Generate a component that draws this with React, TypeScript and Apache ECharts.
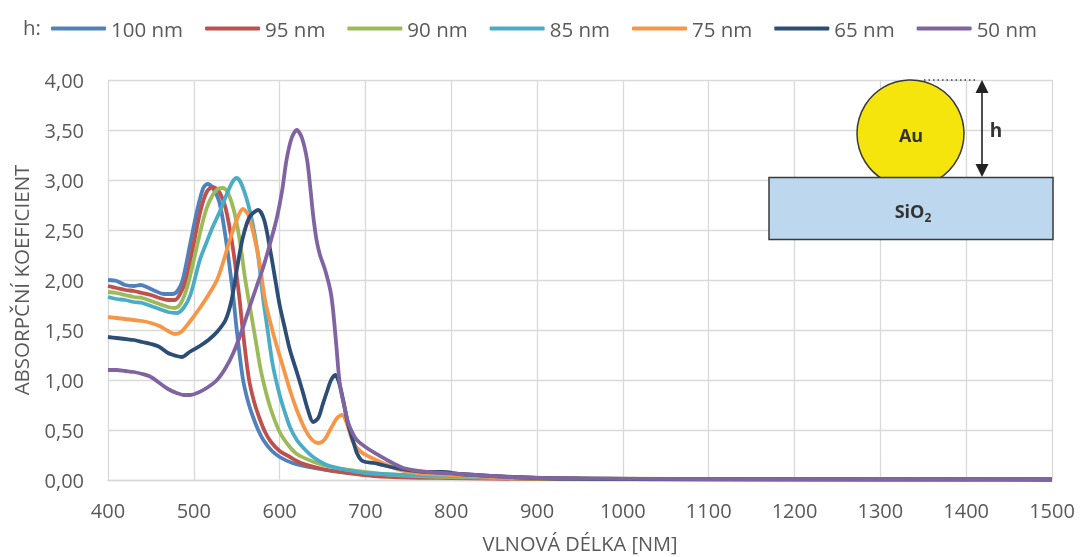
import React, { useEffect, useRef } from "react";
import * as echarts from "echarts";

const FONT = "'Open Sans', sans-serif";
const TEXT = "#595959";

const seriesNames = ["100 nm", "95 nm", "90 nm", "85 nm", "75 nm", "65 nm", "50 nm"];
const seriesColors = ["#4F81BD", "#C0504D", "#9BBB59", "#4BACC6", "#F79646", "#2C4D75", "#8064A2"];

// wavelength [nm], absorption coefficient
const h100: [number, number][] = [
  [400, 2.0], [410, 1.99], [420, 1.95], [430, 1.94], [438, 1.95], [445, 1.93], [455, 1.89], [465, 1.86],
  [475, 1.86], [481, 1.89], [487, 2.0], [496, 2.37], [504, 2.7], [511, 2.92], [516, 2.96], [522, 2.92],
  [530, 2.77], [538, 2.37], [546, 1.83], [550, 1.5], [557, 1.02], [563, 0.79], [569, 0.63], [575, 0.5],
  [581, 0.4], [590, 0.3], [600, 0.23], [615, 0.17], [640, 0.12], [670, 0.08], [700, 0.06], [750, 0.04],
  [800, 0.03], [900, 0.02], [1000, 0.012], [1200, 0.008], [1500, 0.005],
];
const h95: [number, number][] = [
  [400, 1.94], [410, 1.92], [420, 1.9], [430, 1.89], [440, 1.87], [450, 1.85], [460, 1.82], [470, 1.8],
  [478, 1.8], [484, 1.86], [491, 2.0], [500, 2.37], [508, 2.7], [515, 2.88], [522, 2.93], [529, 2.89],
  [537, 2.72], [545, 2.35], [553, 1.83], [557, 1.5], [564, 1.02], [570, 0.79], [576, 0.63], [583, 0.48],
  [590, 0.38], [600, 0.29], [610, 0.24], [625, 0.17], [650, 0.11], [680, 0.07], [710, 0.04], [750, 0.025],
  [800, 0.02], [900, 0.01], [1500, 0.003],
];
const h90: [number, number][] = [
  [400, 1.88], [410, 1.87], [420, 1.85], [430, 1.83], [440, 1.82], [450, 1.79], [460, 1.76], [470, 1.73],
  [478, 1.72], [485, 1.77], [492, 1.92], [500, 2.2], [508, 2.5], [515, 2.72], [522, 2.85], [528, 2.91],
  [534, 2.92], [540, 2.87], [548, 2.65], [554, 2.37], [560, 2.0], [566, 1.7], [572, 1.4], [578, 1.1],
  [584, 0.88], [590, 0.7], [600, 0.48], [610, 0.35], [620, 0.26], [640, 0.18], [660, 0.13], [690, 0.09],
  [720, 0.06], [760, 0.04], [800, 0.03], [900, 0.015], [1500, 0.003],
];
const h85: [number, number][] = [
  [400, 1.83], [410, 1.81], [420, 1.8], [430, 1.78], [440, 1.77], [450, 1.74], [460, 1.71], [470, 1.68],
  [480, 1.67], [488, 1.72], [496, 1.85], [507, 2.2], [515, 2.38], [522, 2.53], [530, 2.68], [538, 2.85],
  [545, 2.98], [550, 3.02], [556, 2.95], [565, 2.7], [574, 2.3], [581, 1.8], [586, 1.5], [592, 1.15],
  [600, 0.85], [606, 0.68], [612, 0.53], [620, 0.4], [630, 0.3], [639, 0.23], [655, 0.15], [678, 0.1],
  [700, 0.07], [750, 0.05], [800, 0.04], [900, 0.02], [1000, 0.01], [1500, 0.005],
];
const h75: [number, number][] = [
  [400, 1.63], [410, 1.62], [420, 1.61], [430, 1.6], [440, 1.59], [450, 1.57], [460, 1.54], [470, 1.49],
  [478, 1.46], [485, 1.48], [495, 1.58], [507, 1.72], [517, 1.85], [527, 2.0], [535, 2.2], [542, 2.4],
  [550, 2.6], [557, 2.71], [563, 2.66], [570, 2.45], [577, 2.15], [583, 1.8], [593, 1.45], [604, 1.13],
  [612, 0.9], [620, 0.7], [630, 0.5], [638, 0.4], [645, 0.37], [652, 0.4], [660, 0.52], [667, 0.62],
  [673, 0.65], [679, 0.55], [686, 0.37], [695, 0.28], [705, 0.23], [720, 0.17], [740, 0.1], [760, 0.07],
  [800, 0.05], [850, 0.03], [900, 0.02], [1000, 0.01], [1500, 0.005],
];
const h65: [number, number][] = [
  [400, 1.43], [410, 1.42], [420, 1.41], [430, 1.4], [440, 1.38], [450, 1.36], [460, 1.33], [470, 1.27],
  [480, 1.24], [486, 1.23], [495, 1.28], [507, 1.34], [517, 1.4], [527, 1.48], [537, 1.6], [544, 1.8],
  [550, 2.1], [557, 2.42], [565, 2.63], [575, 2.7], [582, 2.6], [589, 2.3], [595, 2.0], [600, 1.75],
  [606, 1.52], [612, 1.3], [620, 1.08], [627, 0.88], [633, 0.7], [639, 0.58], [645, 0.62], [650, 0.75],
  [655, 0.88], [660, 1.0], [665, 1.05], [669, 0.98], [674, 0.8], [680, 0.55], [686, 0.38], [690, 0.27],
  [695, 0.2], [700, 0.18], [710, 0.17], [720, 0.15], [735, 0.12], [750, 0.1], [770, 0.08], [790, 0.08],
  [810, 0.06], [850, 0.04], [900, 0.02], [1000, 0.01], [1500, 0.005],
];
const h50: [number, number][] = [
  [400, 1.1], [410, 1.1], [420, 1.09], [430, 1.08], [440, 1.06], [450, 1.03], [460, 0.97], [470, 0.91],
  [480, 0.87], [488, 0.85], [496, 0.85], [504, 0.87], [515, 0.92], [527, 1.0], [537, 1.12], [546, 1.27],
  [555, 1.47], [565, 1.73], [573, 1.93], [581, 2.13], [590, 2.4], [597, 2.63], [603, 2.9], [608, 3.2],
  [614, 3.42], [620, 3.5], [626, 3.42], [632, 3.2], [636, 2.9], [639, 2.65], [643, 2.4], [647, 2.25],
  [653, 2.1], [659, 1.9], [662, 1.72], [666, 1.35], [670, 0.97], [675, 0.75], [680, 0.57], [685, 0.47],
  [690, 0.4], [700, 0.33], [713, 0.26], [725, 0.2], [744, 0.12], [772, 0.08], [810, 0.06], [868, 0.03],
  [950, 0.015], [1100, 0.01], [1500, 0.005],
];
const seriesData = [h100, h95, h90, h85, h75, h65, h50];

export default function App() {
  const ref = useRef<HTMLDivElement>(null);
  useEffect(() => {
    if (!ref.current) return;
    const chart = echarts.init(ref.current, undefined, { renderer: "svg" });
    const dark = "#3a3a3a";
    chart.setOption({
      animation: false,
      textStyle: { fontFamily: FONT },
      grid: { left: 108, right: 31, top: 80, bottom: 77, outerBoundsMode: "none", containLabel: false },
      legend: {
        data: seriesNames,
        left: 46,
        top: 13,
        icon: "roundRect",
        itemWidth: 55,
        itemHeight: 4,
        itemGap: 22,
        textStyle: { fontSize: 20.5, color: TEXT, fontFamily: FONT },
      },
      xAxis: {
        type: "value",
        min: 400,
        max: 1500,
        interval: 100,
        name: "VLNOVÁ DÉLKA [NM]",
        nameLocation: "middle",
        nameGap: 53,
        nameTextStyle: { fontSize: 20, color: TEXT, fontFamily: FONT },
        axisLine: { show: true, lineStyle: { color: "#d9d9d9", width: 1.3 } },
        axisTick: { show: false },
        axisLabel: { fontSize: 20, color: TEXT, margin: 20, fontFamily: FONT, formatter: (v: number) => String(v) },
        splitLine: { show: true, lineStyle: { color: "#d9d9d9", width: 1.3 } },
      },
      yAxis: {
        type: "value",
        min: 0,
        max: 4,
        interval: 0.5,
        name: "ABSORPČNÍ KOEFICIENT",
        nameLocation: "middle",
        nameGap: 77,
        nameTextStyle: { fontSize: 20.5, color: TEXT, fontFamily: FONT },
        axisLine: { show: false },
        axisTick: { show: false },
        axisLabel: {
          fontSize: 20,
          color: TEXT,
          margin: 24,
          fontFamily: FONT,
          formatter: (v: number) => v.toFixed(2).replace(".", ","),
        },
        splitLine: { show: true, lineStyle: { color: "#d9d9d9", width: 1.3 } },
      },
      series: seriesNames.map((name, i) => ({
        name,
        type: "line",
        data: seriesData[i],
        smooth: 0.3,
        symbol: "none",
        lineStyle: { color: seriesColors[i], width: 3.8 },
        itemStyle: { color: seriesColors[i] },
      })),
      graphic: [
        {
          type: "text",
          x: 23,
          y: 27,
          style: { text: "h:", fontSize: 20.5, fill: TEXT, fontFamily: FONT, verticalAlign: "middle" },
        },
        {
          type: "circle",
          z: 100,
          shape: { cx: 910.5, cy: 133.5, r: 53.5 },
          style: { fill: "#F5E50C", stroke: dark, lineWidth: 1.5 },
        },
        {
          type: "rect",
          z: 101,
          shape: { x: 769, y: 177.5, width: 284, height: 62 },
          style: { fill: "#BDD7EE", stroke: dark, lineWidth: 1.5 },
        },
        {
          type: "text",
          z: 102,
          x: 911,
          y: 135,
          style: { text: "Au", fontSize: 18, fontWeight: "bold", fill: "#333333", fontFamily: FONT, align: "center", verticalAlign: "middle" },
        },
        {
          type: "text",
          z: 102,
          x: 913,
          y: 211,
          style: {
            text: "{a|SiO}{b|2}",
            align: "center",
            verticalAlign: "middle",
            rich: {
              a: { fontSize: 18, fontWeight: "bold", fill: "#333333", color: "#333333", fontFamily: FONT, lineHeight: 24, verticalAlign: "middle" },
              b: { fontSize: 12, fontWeight: "bold", fill: "#333333", color: "#333333", fontFamily: FONT, lineHeight: 24, verticalAlign: "bottom" },
            },
          },
        },
        {
          type: "line",
          z: 102,
          shape: { x1: 924, y1: 80, x2: 978, y2: 80 },
          style: { stroke: "#444444", lineWidth: 1.5, lineDash: [1.5, 3] },
        },
        {
          type: "line",
          z: 102,
          shape: { x1: 982, y1: 90, x2: 982, y2: 168 },
          style: { stroke: "#222222", lineWidth: 1.6 },
        },
        {
          type: "polygon",
          z: 102,
          shape: { points: [[982, 80], [975.5, 93], [988.5, 93]] },
          style: { fill: "#222222" },
        },
        {
          type: "polygon",
          z: 102,
          shape: { points: [[982, 177], [975.5, 164], [988.5, 164]] },
          style: { fill: "#222222" },
        },
        {
          type: "text",
          z: 102,
          x: 996,
          y: 130,
          style: { text: "h", fontSize: 19, fontWeight: "bold", fill: "#333333", fontFamily: FONT, align: "center", verticalAlign: "middle" },
        },
      ],
    });
    return () => chart.dispose();
  }, []);
  return <div ref={ref} style={{ position: "fixed", left: 0, top: 0, width: 1083, height: 557 }} />;
}
